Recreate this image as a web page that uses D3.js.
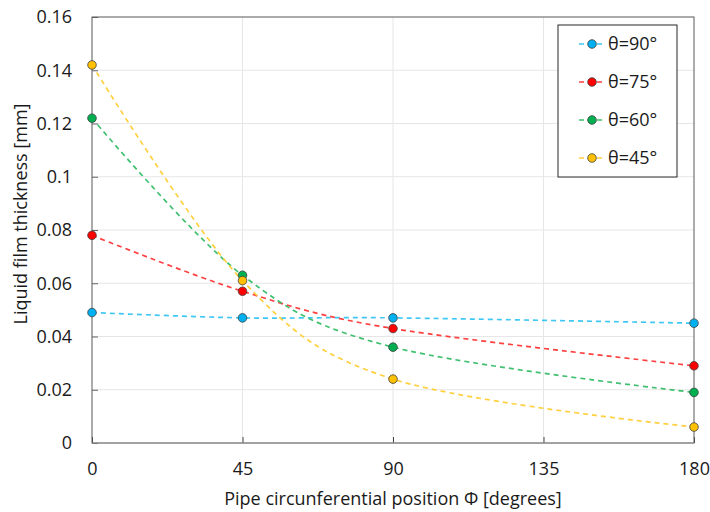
<!DOCTYPE html>
<html>
<head>
<meta charset="utf-8">
<script src="https://cdn.jsdelivr.net/npm/d3@7"></script>
<style>
  body { margin: 0; background: #fff; }
  text { font-family: "Open Sans", sans-serif; fill: #1a1a1a; }
</style>
</head>
<body>
<div id="chart"></div>
<script>
// data
const positions = [0, 45, 90, 180];
const seriesNames = ['θ=90°', 'θ=75°', 'θ=60°', 'θ=45°'];
const theta90 = [0.049, 0.047, 0.047, 0.045];
const theta75 = [0.078, 0.057, 0.043, 0.029];
const theta60 = [0.122, 0.063, 0.036, 0.019];
const theta45 = [0.142, 0.061, 0.024, 0.006];
const xTicks = [0, 45, 90, 135, 180];
const yTicks = [0, 0.02, 0.04, 0.06, 0.08, 0.1, 0.12, 0.14, 0.16];

const markerColors = ['#00b0f0', '#ff0000', '#00b050', '#ffc000'];
const lineColors = ['#40c8f4', '#ff4040', '#40c070', '#ffd040'];

const width = 710, height = 512;
const margin = { top: 17, right: 16, bottom: 69, left: 92 };
const innerW = width - margin.left - margin.right;
const innerH = height - margin.top - margin.bottom;

const series = [theta90, theta75, theta60, theta45].map((vals, i) => ({
  name: seriesNames[i],
  points: positions.map((p, j) => ({ x: p, y: vals[j] }))
}));

const svg = d3.select('#chart').append('svg')
  .attr('width', width)
  .attr('height', height);

const g = svg.append('g').attr('transform', `translate(${margin.left},${margin.top})`);

const x = d3.scaleLinear().domain([0, 180]).range([0, innerW]);
const y = d3.scaleLinear().domain([0, 0.16]).range([innerH, 0]);

// gridlines
g.append('g').selectAll('line')
  .data(yTicks.slice(1, -1))
  .enter().append('line')
  .attr('x1', 0).attr('x2', innerW)
  .attr('y1', d => y(d)).attr('y2', d => y(d))
  .attr('stroke', '#e6e6e6');

g.append('g').selectAll('line')
  .data(xTicks.slice(1, -1))
  .enter().append('line')
  .attr('x1', d => x(d)).attr('x2', d => x(d))
  .attr('y1', 0).attr('y2', innerH)
  .attr('stroke', '#e6e6e6');

// axes, ticks drawn inwards
const yAxis = g.append('g')
  .call(d3.axisLeft(y).tickValues(yTicks).tickSize(-6).tickPadding(20)
    .tickFormat(d => d === 0 ? '0' : d3.format('')(+d.toFixed(2))));
yAxis.select('.domain').remove();
yAxis.selectAll('.tick line').attr('stroke', '#666');
yAxis.selectAll('text').style('font-size', '18px').style('font-family', '"Open Sans", sans-serif').attr('fill', '#1a1a1a');

const xAxis = g.append('g')
  .attr('transform', `translate(0,${innerH})`)
  .call(d3.axisBottom(x).tickValues(xTicks).tickSize(-6).tickPadding(19));
xAxis.select('.domain').remove();
xAxis.selectAll('.tick line').attr('stroke', '#444');
xAxis.selectAll('text').style('font-size', '18px').style('font-family', '"Open Sans", sans-serif').attr('fill', '#1a1a1a');

// plot border
g.append('rect')
  .attr('width', innerW).attr('height', innerH)
  .attr('fill', 'none').attr('stroke', '#595959').attr('stroke-width', 1);
g.append('line')
  .attr('x1', 0).attr('x2', innerW).attr('y1', innerH).attr('y2', innerH)
  .attr('stroke', '#999');

// smoothed dashed lines
const line = d3.line()
  .x(d => x(d.x))
  .y(d => y(d.y))
  .curve(d3.curveCatmullRom.alpha(0));

g.append('g').selectAll('path')
  .data(series)
  .enter().append('path')
  .attr('d', d => line(d.points))
  .attr('fill', 'none')
  .attr('stroke', (d, i) => lineColors[i])
  .attr('stroke-width', 1.7)
  .attr('stroke-dasharray', '5,4');

// markers
series.forEach((s, i) => {
  g.append('g').selectAll('circle')
    .data(s.points)
    .enter().append('circle')
    .attr('cx', d => x(d.x))
    .attr('cy', d => y(d.y))
    .attr('r', 4.3)
    .attr('fill', markerColors[i])
    .attr('stroke', '#404040')
    .attr('stroke-width', 0.8);
});

// legend
const legend = svg.append('g').attr('transform', 'translate(558,25)');
legend.append('rect')
  .attr('width', 119).attr('height', 152)
  .attr('fill', '#fff').attr('stroke', '#262626').attr('stroke-width', 1);

const item = legend.selectAll('g.item')
  .data(series)
  .enter().append('g')
  .attr('class', 'item')
  .attr('transform', (d, i) => `translate(0,${19 + i * 38})`);

item.append('line')
  .attr('x1', 20).attr('x2', 44)
  .attr('stroke', (d, i) => lineColors[i])
  .attr('stroke-width', 1.7)
  .attr('stroke-dasharray', '5,4')
  .attr('stroke-dashoffset', -1);
item.append('circle')
  .attr('cx', 34).attr('r', 4.3)
  .attr('fill', (d, i) => markerColors[i])
  .attr('stroke', '#404040').attr('stroke-width', 0.8);
item.append('text')
  .attr('x', 50).attr('dy', '0.35em')
  .style('font-size', '18px')
  .text(d => d.name);

// axis titles
svg.append('text')
  .attr('x', margin.left + innerW / 2)
  .attr('y', 505)
  .attr('text-anchor', 'middle')
  .style('font-size', '18px')
  .text('Pipe circunferential position Φ [degrees]');

svg.append('text')
  .attr('transform', 'translate(27,214) rotate(-90)')
  .attr('text-anchor', 'middle')
  .style('font-size', '18px')
  .text('Liquid film thickness [mm]');
</script>
</body>
</html>
